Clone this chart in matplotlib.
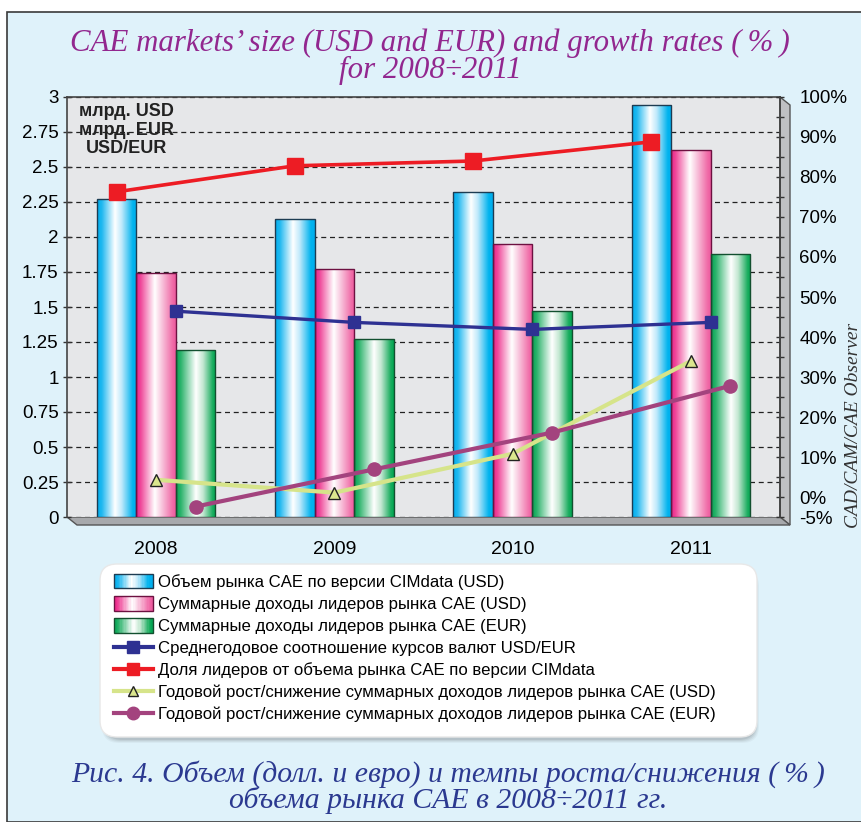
import numpy as np
import matplotlib
matplotlib.use('Agg')
import matplotlib.pyplot as plt
from matplotlib.colors import LinearSegmentedColormap
from matplotlib.patches import Rectangle, Polygon, FancyBboxPatch
from matplotlib.lines import Line2D
from matplotlib.legend_handler import HandlerBase

# ---------------- data ----------------
years = ['2008', '2009', '2010', '2011']
market_usd = [2.27, 2.13, 2.32, 2.94]      # CIMdata market size, bln USD
leaders_usd = [1.74, 1.77, 1.95, 2.62]     # leaders revenue, bln USD
leaders_eur = [1.19, 1.27, 1.47, 1.88]     # leaders revenue, bln EUR
usd_eur = [1.47, 1.39, 1.34, 1.39]         # USD/EUR rate
leaders_share = [76.3, 82.8, 84.0, 88.8]   # %, right axis
growth_usd = [4.3, 1.1, 10.8, 34.0]        # %, right axis
growth_eur = [-2.4, 6.9, 16.1, 27.8]       # %, right axis

left_ticks = [0, 0.25, 0.5, 0.75, 1, 1.25, 1.5, 1.75, 2, 2.25, 2.5, 2.75, 3]
left_ticklabels = ['0', '0.25', '0.5', '0.75', '1', '1.25', '1.5', '1.75', '2',
                   '2.25', '2.5', '2.75', '3']
right_ticks = [-5, 0, 10, 20, 30, 40, 50, 60, 70, 80, 90, 100]
right_ticklabels = ['-5%', '0%', '10%', '20%', '30%', '40%', '50%', '60%',
                    '70%', '80%', '90%', '100%']
right_minor = [5, 15, 25, 35, 45, 55, 65, 75, 85, 95]

labels = ['Объем рынка CAE по версии CIMdata (USD)',
          'Суммарные доходы лидеров рынка CAE (USD)',
          'Суммарные доходы лидеров рынка CAE (EUR)',
          'Среднегодовое соотношение курсов валют USD/EUR',
          'Доля лидеров от объема рынка CAE по версии CIMdata',
          'Годовой рост/снижение суммарных доходов лидеров рынка CAE (USD)',
          'Годовой рост/снижение суммарных доходов лидеров рынка CAE (EUR)']

# ---------------- setup ----------------
W, H = 861, 822
plt.rcParams['font.family'] = ['Liberation Sans', 'DejaVu Sans']
fig = plt.figure(figsize=(W / 100, H / 100), dpi=100)
fig.patch.set_facecolor('white')


def fx(x):
    return x / W


def fy(y):
    return 1 - y / H


BG = '#dff2fa'
fig.patches.append(Rectangle((fx(7), 0), 1, fy(12), transform=fig.transFigure,
                             facecolor=BG, edgecolor='#3a3a3a', lw=1.2, zorder=-10))

AX_L, AX_R, AX_T, AX_B = 67, 780, 97, 517
ax = fig.add_axes([fx(AX_L), fy(AX_B), fx(AX_R - AX_L), (AX_B - AX_T) / H])
ax.set_facecolor('#e6e7e9')

# 3D wall / floor
D = (10, 8)
wall = Polygon([(fx(AX_R), fy(AX_T)), (fx(AX_R + D[0]), fy(AX_T + D[1])),
                (fx(AX_R + D[0]), fy(AX_B + D[1])), (fx(AX_R), fy(AX_B))],
               closed=True, transform=fig.transFigure, facecolor='#bfc0c3',
               edgecolor='#555555', lw=1, zorder=-5)
fig.patches.append(wall)
floor = Polygon([(fx(AX_L), fy(AX_B)), (fx(AX_R), fy(AX_B)),
                 (fx(AX_R + D[0]), fy(AX_B + D[1])), (fx(AX_L + D[0]), fy(AX_B + D[1]))],
                closed=True, transform=fig.transFigure, facecolor='#a7a9ac',
                edgecolor='#555555', lw=1, zorder=-5)
fig.patches.append(floor)

x = np.arange(len(years))
bw = 0.2216

cm_blue = LinearSegmentedColormap.from_list('b', [(0, '#00aeef'), (0.12, '#1fb8f0'),
                                                 (0.45, '#ffffff'), (0.62, '#bfe9fb'),
                                                 (0.9, '#00b3ee'), (1, '#00aeef')])
cm_pink = LinearSegmentedColormap.from_list('p', [(0, '#ec1f87'), (0.12, '#ef4a9b'),
                                                 (0.47, '#ffffff'), (0.65, '#f8c4dc'),
                                                 (0.92, '#f06aa7'), (1, '#ec5a9e')])
cm_green = LinearSegmentedColormap.from_list('g', [(0, '#00a651'), (0.12, '#2db36c'),
                                                  (0.5, '#ffffff'), (0.68, '#c3e7d1'),
                                                  (0.92, '#1aad5f'), (1, '#00a651')])

ax.set_axisbelow(True)
b1 = ax.bar(x - bw, market_usd, bw, facecolor='none', edgecolor='#1d3c52', lw=1, zorder=3)
b2 = ax.bar(x, leaders_usd, bw, facecolor='none', edgecolor='#6d1141', lw=1, zorder=3)
b3 = ax.bar(x + bw, leaders_eur, bw, facecolor='none', edgecolor='#12502f', lw=1, zorder=3)

grad = np.linspace(0, 1, 256).reshape(1, -1)
for bars, cm in ((b1, cm_blue), (b2, cm_pink), (b3, cm_green)):
    for b in bars:
        x0, y0, w, h = b.get_x(), b.get_y(), b.get_width(), b.get_height()
        im = ax.imshow(grad, cmap=cm, aspect='auto', extent=(x0, x0 + w, y0, y0 + h),
                       zorder=2.9, interpolation='bilinear')
        im.set_clip_path(b)

ax.plot(x + 0.5 * bw, usd_eur, color='#2e3192', lw=2.4, marker='s', markersize=9,
        zorder=5, solid_capstyle='butt')

ax.set_xlim(-0.5, 3.5)
ax.set_ylim(0, 3)
ax.set_yticks(left_ticks)
ax.set_yticklabels(left_ticklabels)
ax.set_xticks(x)
ax.set_xticklabels(years)
ax.yaxis.grid(True, color='#222222', linestyle=(0, (4, 3)), lw=0.9)
ax.tick_params(axis='y', direction='inout', length=6, width=1, color='#333333',
               labelsize=13.5, pad=3)
ax.tick_params(axis='x', length=0, labelsize=14, pad=17)
ax.spines['bottom'].set_visible(False)
for s in ('left', 'top', 'right'):
    ax.spines[s].set_color('#444444')
    ax.spines[s].set_linewidth(1.2)

ax.text(0.083, 0.985, 'млрд. USD\nмлрд. EUR\nUSD/EUR', transform=ax.transAxes,
        ha='center', va='top', fontsize=13, fontweight='bold', linespacing=1.12,
        color='#222222', zorder=6)

ax2 = ax.twinx()
ax2.set_ylim(-5, 100)
ax2.set_yticks(right_ticks)
ax2.set_yticklabels(right_ticklabels)
ax2.set_yticks(right_minor, minor=True)
ax2.tick_params(axis='y', which='both', direction='inout', length=6, width=1,
                color='#333333', labelsize=13.5, pad=11)
for s in ('left', 'bottom', 'top'):
    ax2.spines[s].set_visible(False)
ax2.spines['right'].set_color('#444444')
ax2.spines['right'].set_linewidth(1.2)

ax2.plot(x - bw, leaders_share, color='#ed1c24', lw=2.6, marker='s', markersize=11,
         zorder=5)
ax2.plot(x, growth_usd, color='#d6e48a', lw=3, marker='^', markersize=9,
         markerfacecolor='#dbe68e', markeredgecolor='#222222', markeredgewidth=1, zorder=4)
ax2.plot(x + bw, growth_eur, color='#a3437e', lw=3, marker='o', markersize=9.5,
         zorder=4)

# ---------------- legend ----------------
LB = (100, 564, 757, 737)
for i, a in enumerate([0.05, 0.07, 0.09, 0.12]):
    fig.patches.append(FancyBboxPatch((fx(LB[0] + 2 + i), fy(LB[3] + 6 - i)),
                                      fx(LB[2] - LB[0] - 2 * i), (LB[3] - LB[1]) / H,
                                      boxstyle='round,pad=0,rounding_size=0.02',
                                      transform=fig.transFigure, facecolor='#555555',
                                      alpha=a, edgecolor='none', zorder=-4))
fig.patches.append(FancyBboxPatch((fx(LB[0]), fy(LB[3])), fx(LB[2] - LB[0]),
                                  (LB[3] - LB[1]) / H,
                                  boxstyle='round,pad=0,rounding_size=0.02',
                                  transform=fig.transFigure, facecolor='white',
                                  edgecolor='#e8e8e8', lw=1, zorder=-3))


class GradHandler(HandlerBase):
    def __init__(self, cmap, edge):
        super().__init__()
        self.cmap = cmap
        self.edge = edge

    def create_artists(self, legend, orig_handle, xdescent, ydescent, width, height,
                       fontsize, trans):
        arts = []
        n = 30
        for i in range(n):
            arts.append(Rectangle((-xdescent + i * width / n, -ydescent), width / n * 1.05,
                                  height, facecolor=self.cmap((i + 0.5) / n),
                                  edgecolor='none', transform=trans))
        arts.append(Rectangle((-xdescent, -ydescent), width, height, facecolor='none',
                              edgecolor=self.edge, lw=1, transform=trans))
        return arts


h1, h2, h3 = Rectangle((0, 0), 1, 1), Rectangle((0, 0), 1, 1), Rectangle((0, 0), 1, 1)
h4 = Line2D([], [], color='#2e3192', lw=3, marker='s', markersize=9)
h5 = Line2D([], [], color='#ed1c24', lw=3, marker='s', markersize=9)
h6 = Line2D([], [], color='#d6e48a', lw=3, marker='^', markersize=7,
            markerfacecolor='#dbe68e', markeredgecolor='#222222')
h7 = Line2D([], [], color='#a3437e', lw=3, marker='o', markersize=9)
fig.legend([h1, h2, h3, h4, h5, h6, h7], labels, loc='upper left',
           bbox_to_anchor=(fx(114), fy(574)), frameon=False, fontsize=12.1,
           handlelength=2.3, handleheight=0.95, handletextpad=0.3, labelspacing=0.36,
           borderpad=0, borderaxespad=0, numpoints=1,
           handler_map={h1: GradHandler(cm_blue, '#1d3c52'),
                        h2: GradHandler(cm_pink, '#6d1141'),
                        h3: GradHandler(cm_green, '#12502f')})

# ---------------- titles ----------------
serif = ['Liberation Serif', 'DejaVu Serif']
fig.text(fx(430), fy(57),
         'CAE markets\u2019 size (USD and EUR) and growth rates (\u2009%\u2009)\nfor 2008\u00f72011',
         ha='center', va='center', fontsize=22.2, style='italic', family=serif,
         color='#92278f', linespacing=0.92)
fig.text(fx(448), fy(787),
         'Рис. 4. Объем (долл. и евро) и темпы роста/снижения (\u2009%\u2009)\n'
         'объема рынка CAE в 2008\u00f72011 гг.',
         ha='center', va='center', fontsize=21.4, style='italic', family=serif,
         color='#2b3990', linespacing=0.93)
fig.text(fx(853), fy(425), 'CAD/CAM/CAE Observer', rotation=90, ha='center',
         va='center', fontsize=14, style='italic', family=serif, color='#333333')

fig.savefig('out.png', dpi=100, facecolor=fig.get_facecolor())
